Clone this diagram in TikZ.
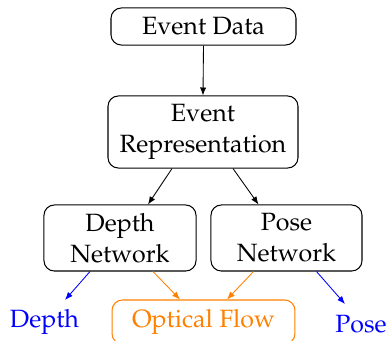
\documentclass[tikz,border=0pt]{standalone}
\usepackage[T1]{fontenc}
\usepackage{mathpazo}
\usetikzlibrary{arrows.meta,calc}
\begin{document}
\begin{tikzpicture}[x=0.58pt,y=-0.58pt,
  box/.style={draw, rounded corners=6pt, line width=0.6pt, align=center, inner sep=0pt,
    font=\fontsize{14.5}{18}\selectfont},
  lbl/.style={inner sep=0pt, font=\fontsize{14.5}{18}\selectfont},
  arr/.style={-{Latex[length=4.6pt,width=3.6pt]}, line width=0.5pt}]
\useasboundingbox (0,0) rectangle (390,341);
\node[box, minimum width=107.3pt, minimum height=21.5pt] (ed) at (203.5,26.5) {Event Data};
\node[box, minimum width=110.2pt, minimum height=41.8pt] (er) at (203,132) {Event\\Representation};
\node[box, minimum width=88.2pt, minimum height=38.3pt] (dn) at (120,238) {Depth\\Network};
\node[box, minimum width=87.6pt, minimum height=38.3pt] (pn) at (286.5,238) {Pose\\Network};
\node[box, draw=orange, text=orange, minimum width=106.1pt, minimum height=25.5pt] (of) at (203.5,322) {Optical Flow};
\node[lbl, text=blue] (depth) at (44.5,322) {Depth};
\node[lbl, text=blue] (pose) at (361,324) {Pose};
\draw[arr] (ed.south) -- (er.north);
\draw[arr] ($(er.south)+(-31,0)$) -- ($(dn.north)+(28,0)$);
\draw[arr] ($(er.south)+(30,0)$) -- ($(pn.north)+(-28,0)$);
\draw[arr, blue] ($(dn.south)+(-30,0)$) -- ($(depth.center)+(20.5,-22)$);
\draw[arr, orange] ($(dn.south)+(33,0)$) -- ($(of.north)+(-23.5,0)$);
\draw[arr, orange] ($(pn.south)+(-33,0)$) -- ($(of.north)+(23.5,0)$);
\draw[arr, blue] ($(pn.south)+(30,0)$) -- ($(pose.center)+(-16,-20)$);
\end{tikzpicture}
\end{document}
